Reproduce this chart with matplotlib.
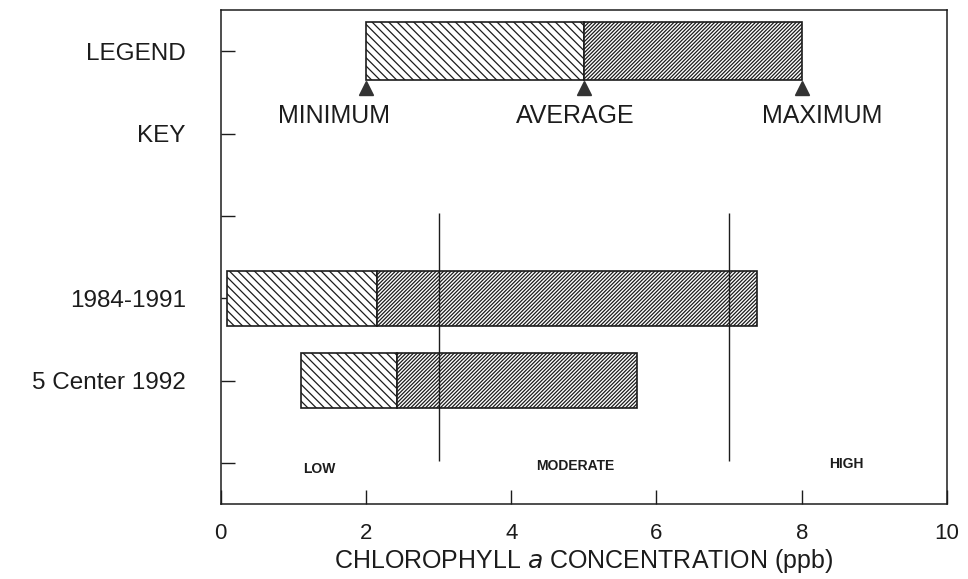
import numpy as np
import matplotlib.pyplot as plt

plt.rcParams['font.family'] = ['Liberation Sans', 'DejaVu Sans']
plt.rcParams['hatch.linewidth'] = 0.9

# rows, top to bottom
row_labels = ['LEGEND', 'KEY', '', '1984-1991', '5 Center 1992', '']

# bars: row index, minimum, average, maximum (ppb)
bar_rows = [0, 3, 4]
bar_min = [2.0, 0.09, 1.10]
bar_avg = [5.0, 2.15, 2.43]
bar_max = [8.0, 7.38, 5.73]

# legend markers under the key bar
key_names = ['MINIMUM', 'AVERAGE', 'MAXIMUM']
key_vals = [2.0, 5.0, 8.0]
key_text_x = [1.56, 4.88, 8.28]

# trophic class boundaries and names
bounds = [3, 7]
class_names = ['LOW', 'MODERATE', 'HIGH']
class_x = [1.36, 4.88, 8.62]

xticks = [0, 2, 4, 6, 8, 10]

ink = '#1c1c1c'

fig = plt.figure(figsize=(9.68, 5.79), dpi=100)
ax = fig.add_axes([220.7 / 968, 75 / 579, 726.3 / 968, 494 / 579])

widths_low = np.array(bar_avg) - np.array(bar_min)
widths_high = np.array(bar_max) - np.array(bar_avg)
heights = [0.70, 0.67, 0.68]

ax.barh(bar_rows, widths_low, left=bar_min, height=heights, facecolor='white',
        edgecolor=ink, linewidth=1.2, hatch='\\' * 4, zorder=2)
ax.barh(bar_rows, widths_high, left=bar_avg, height=heights, facecolor='white',
        edgecolor=ink, linewidth=1.2, hatch='/' * 9, zorder=2)

# arrows and labels for the key
ax.plot(key_vals, [0.45] * 3, ls='none', marker='^', ms=10, color='#333333', zorder=3)
for name, x in zip(key_names, key_text_x):
    ax.text(x, 0.79, name, ha='center', va='center', fontsize=18, color=ink)

# class boundaries
ax.vlines(bounds, 1.96, 4.98, color=ink, linewidth=1.0, zorder=3)
for name, x, y in zip(class_names, class_x, [5.08, 5.04, 5.02]):
    ax.text(x, y, name, ha='center', va='center', fontsize=10, fontweight='bold',
            color=ink)

ax.set_xlim(0, 10)
ax.set_ylim(5.5, -0.5)
ax.set_xticks(xticks)
ax.set_xticklabels([str(t) for t in xticks], fontsize=16, color=ink)
ax.set_yticks(range(len(row_labels)))
ax.set_yticklabels(row_labels, fontsize=17.5, color=ink)

ax.tick_params(axis='y', direction='in', length=10, width=1, pad=25, color=ink)
ax.tick_params(axis='x', direction='in', length=10, width=1, pad=14, color=ink)
for s in ax.spines.values():
    s.set_linewidth(1.1)
    s.set_color(ink)

ax.set_xlabel('CHLOROPHYLL $\\it{a}$ CONCENTRATION (ppb)', fontsize=18, color=ink,
              labelpad=2)

fig.savefig('out.png', dpi=100)
